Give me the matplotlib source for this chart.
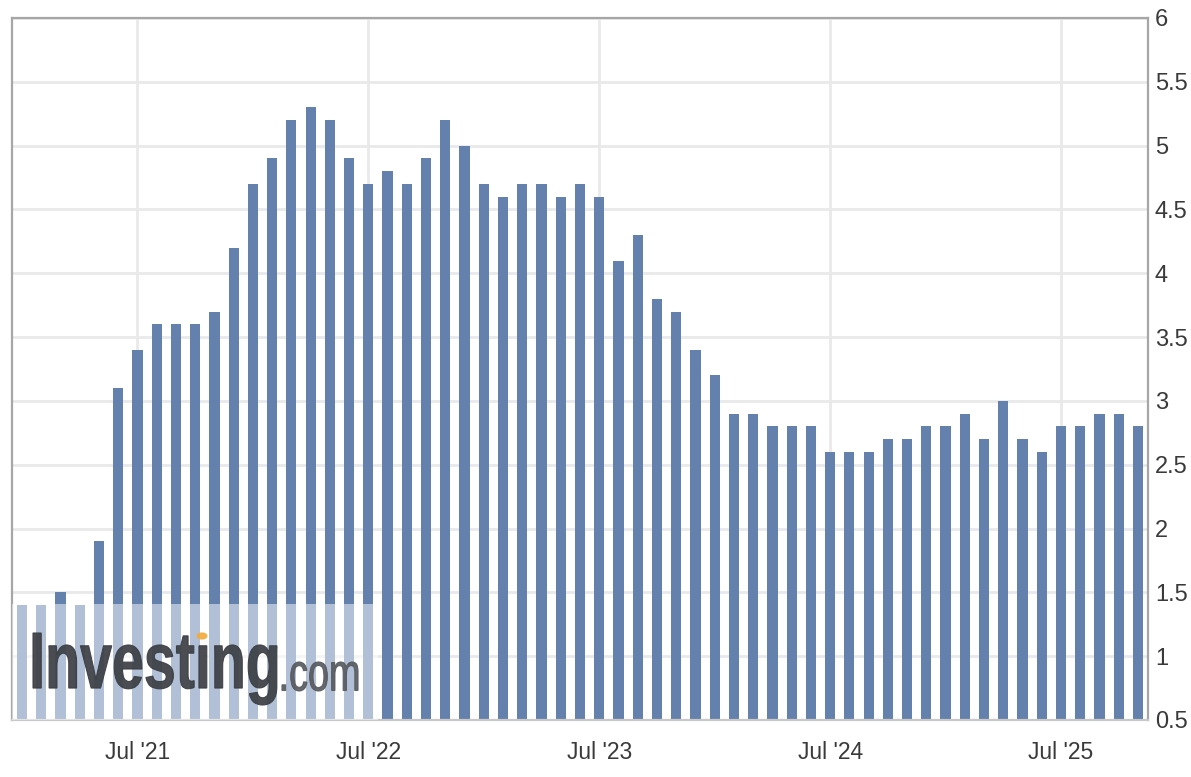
import numpy as np
import pandas as pd
import matplotlib
matplotlib.use("Agg")
import matplotlib.pyplot as plt
from matplotlib.textpath import TextPath
from matplotlib.patches import PathPatch, Rectangle, Circle
from matplotlib.font_manager import FontProperties
from matplotlib.transforms import Affine2D

# monthly readings, Jan 2021 .. Nov 2025
months = pd.date_range("2021-01-01", periods=59, freq="MS")
values = [1.4, 1.4, 1.5, 1.4, 1.9, 3.1, 3.4, 3.6, 3.6, 3.6, 3.7, 4.2,
          4.7, 4.9, 5.2, 5.3, 5.2, 4.9, 4.7, 4.8, 4.7, 4.9, 5.2, 5.0,
          4.7, 4.6, 4.7, 4.7, 4.6, 4.7, 4.6, 4.1, 4.3, 3.8, 3.7, 3.4,
          3.2, 2.9, 2.9, 2.8, 2.8, 2.8, 2.6, 2.6, 2.6, 2.7, 2.7, 2.8,
          2.8, 2.9, 2.7, 3.0, 2.7, 2.6, 2.8, 2.8, 2.9, 2.9, 2.8]
y_ticks = [0.5, 1, 1.5, 2, 2.5, 3, 3.5, 4, 4.5, 5, 5.5, 6]
y_labels = ["0.5", "1", "1.5", "2", "2.5", "3", "3.5", "4", "4.5", "5", "5.5", "6"]

W, H = 1191, 777
bar_color = "#6481ad"
text_color = "#3a3a3a"

fig = plt.figure(figsize=(W / 100, H / 100), dpi=100)
ax = fig.add_axes([12 / W, 57 / H, 1136 / W, 702 / H])

x = np.arange(len(values))
ax.bar(x, np.array(values) - 0.5, bottom=0.5, width=0.53, color=bar_color, zorder=2)

ax.set_xlim(-0.52, len(values) - 1 + 0.52)
ax.set_ylim(0.5, 6)

# July ticks
jul = [i for i, m in enumerate(months) if m.month == 7]
ax.set_xticks(jul)
ax.set_xticklabels([months[i].strftime("Jul '%y") for i in jul])
ax.set_yticks(y_ticks)
ax.set_yticklabels(y_labels)
ax.yaxis.tick_right()
ax.tick_params(axis="x", length=0, pad=15, labelsize=16.5, labelcolor=text_color)
ax.tick_params(axis="y", length=0, pad=5, labelsize=17, labelcolor=text_color)
for lab in ax.get_xticklabels() + ax.get_yticklabels():
    lab.set_family("Liberation Sans")

ax.grid(True, color="#e9e9e9", linewidth=2)
ax.set_axisbelow(True)
for side in ["left", "top", "right"]:
    ax.spines[side].set_color("#a6a6a6")
    ax.spines[side].set_linewidth(1.6)
ax.spines["bottom"].set_color("#c8c8c8")
ax.spines["bottom"].set_linewidth(1.6)

# watermark panel washing out the lower-left bars
ax.add_patch(Rectangle((-0.52, 0.5), 19.02, 0.91, facecolor="white", alpha=0.5,
                       edgecolor="none", zorder=3))


def logo_text(s, weight, x0, x1, y_top, y_bot, color):
    tp = TextPath((0, 0), s, size=1, prop=FontProperties(family="Liberation Sans", weight=weight))
    ext = tp.get_extents()
    sx = (x1 - x0) / ext.width
    sy = (y_bot - y_top) / ext.height
    tr = (Affine2D().translate(-ext.x0, -ext.y0).scale(sx, sy)
          .translate(x0, H - y_bot).scale(1 / W, 1 / H) + fig.transFigure)
    fig.patches.append(PathPatch(tp, facecolor=color, edgecolor=color, linewidth=0.8,
                                 transform=tr, figure=fig, zorder=4, alpha=0.92))


logo_text("Investıng", "bold", 33, 277, 633, 705, "#3b3e44")
logo_text(".com", "normal", 282, 358, 662, 691, "#585b60")
fig.patches.append(Circle((202 / W, (H - 636) / H), 5.5 / W, facecolor="#f3a935",
                          edgecolor="none", transform=fig.transFigure, figure=fig,
                          zorder=5, alpha=0.9))

fig.savefig("out.png", dpi=100)
